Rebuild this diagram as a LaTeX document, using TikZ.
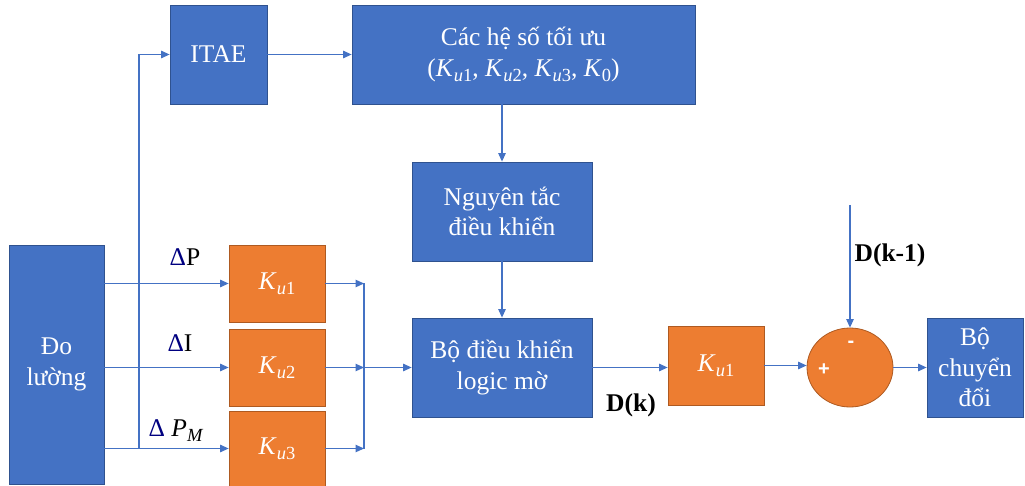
\documentclass[tikz,border=0pt]{standalone}
\usepackage{fontspec}
\setmainfont{LiberationSerif}[Extension=.ttf, UprightFont=*-Regular, BoldFont=*-Bold, ItalicFont=*-Italic, BoldItalicFont=*-BoldItalic]
\newfontfamily\plusfont{Liberation Sans}
\usetikzlibrary{arrows.meta,shapes.geometric}
\definecolor{bfill}{HTML}{4472C4}
\definecolor{bborder}{HTML}{2F528F}
\definecolor{ofill}{HTML}{ED7D31}
\definecolor{oborder}{HTML}{AE5A21}
\definecolor{lineblue}{HTML}{4472C4}
\definecolor{navyd}{HTML}{000080}
\newcommand{\kk}[1]{\textit{K}\raisebox{-5pt}{\fontsize{18.5}{18.5}\selectfont\textit{u}#1}}
\begin{document}
\begin{tikzpicture}[x=1pt,y=-1pt,
  bluebox/.style={draw=bborder, fill=bfill, line width=0.8pt, text=white, align=center, inner sep=0pt, font=\fontsize{25.5}{30.5}\selectfont},
  orangebox/.style={draw=oborder, fill=ofill, line width=0.8pt, text=white, align=center, inner sep=0pt, font=\fontsize{25.5}{30.5}\selectfont},
  conn/.style={draw=lineblue, line width=1.1pt, -{Triangle[length=8.5pt,width=7.5pt]}},
  bus/.style={draw=lineblue, line width=2.6pt},
  lbl/.style={inner sep=0pt, font=\fontsize{25.5}{30}\selectfont},
  lblb/.style={inner sep=0pt, font=\fontsize{25.5}{30}\selectfont\bfseries},
  sign/.style={inner sep=0pt, text=white, font=\fontsize{20}{22}\selectfont\plusfont\bfseries}]
\useasboundingbox (0,0) rectangle (1025,486);
% blocks
\node[bluebox, minimum width=95, minimum height=239] (meas) at (56.5,364.5) {Đo\\lường};
\node[bluebox, minimum width=97, minimum height=99] (itae) at (218.5,54.5) {ITAE};
\node[bluebox, minimum width=343, minimum height=99] (coef) at (523.5,54.5) {Các hệ số tối ưu\\(\kk{1}, \kk{2}, \kk{3}, \textit{K}\raisebox{-5pt}{\fontsize{18.5}{18.5}\selectfont 0})};
\node[bluebox, minimum width=180, minimum height=99] (rule) at (502,211.5) {Nguyên tắc\\điều khiển};
\node[bluebox, minimum width=180, minimum height=99] (flc) at (502,367.5) {Bộ điều khiển\\logic mờ};
\node[orangebox, minimum width=96, minimum height=77] (k1) at (277,283.5) {\kk{1}};
\node[orangebox, minimum width=96, minimum height=77] (k2) at (277,367.5) {\kk{2}};
\node[orangebox, minimum width=96, minimum height=75] (k3) at (277,448.5) {\kk{3}};
\node[orangebox, minimum width=96, minimum height=79] (k4) at (716,365.5) {\kk{1}};
\node[ellipse, draw=oborder, fill=ofill, line width=0.8pt, minimum width=86, minimum height=79, inner sep=0pt] (sum) at (850,367.5) {};
\node[bluebox, minimum width=96, minimum height=99] (conv) at (975,367.5) {Bộ\\chuyển\\đổi};
% signs
\node[sign] (plus) at (824,370) {+};
\node[sign] (minus) at (851,344) {-};
% coordinates
\coordinate (tap) at (139,448.5);
\coordinate (b1) at (364,283.5);
\coordinate (b2) at (364,367.5);
\coordinate (b3) at (364,448.5);
\coordinate (dtop) at (850,205);
% connectors
\draw[conn] (k1.west -| meas.east) -- (k1.west);
\draw[conn] (k2.west -| meas.east) -- (k2.west);
\draw[conn] (k3.west -| meas.east) -- (k3.west);
\draw[conn] (tap) |- (itae.west);
\draw[conn] (itae.east) -- (coef.west);
\draw[conn] (coef.south -| rule.north) -- (rule.north);
\draw[conn] (rule.south) -- (flc.north);
\draw[conn] (k1.east) -- (b1);
\draw[conn] (k2.east) -- (b2);
\draw[conn] (k3.east) -- (b3);
\draw[bus] (b1) -- (b3);
\draw[conn] (b2) -- (flc.west);
\draw[conn] (flc.east) -- (k4.west |- flc.east);
\draw[conn] (k4.east) -- (k4.east -| sum.west);
\draw[conn] (sum.east) -- (conv.west);
\draw[conn] (dtop) -- (sum.north);
% labels
\node[lbl] (lp) at (185,257) {\textcolor{navyd}{Δ}P};
\node[lbl] (li) at (180,343) {\textcolor{navyd}{Δ}I};
\node[lbl] (lpm) at (176,431) {\textcolor{navyd}{Δ} \textit{P}\raisebox{-5pt}{\fontsize{18.5}{18.5}\selectfont\textit{M}}};
\node[lblb] (dk) at (631,405) {D(k)};
\node[lblb] (dk1) at (890,255) {D(k-1)};
\end{tikzpicture}
\end{document}
